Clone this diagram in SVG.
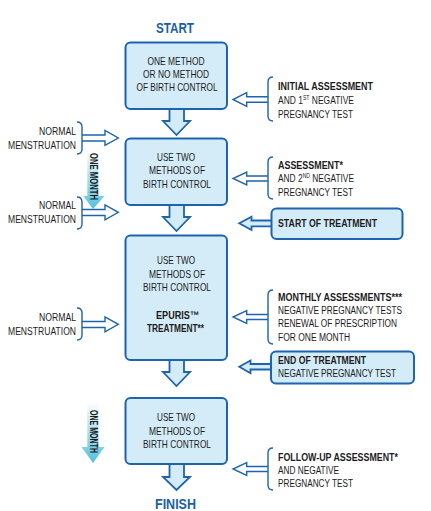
<svg xmlns="http://www.w3.org/2000/svg" width="431" height="511" viewBox="0 0 431 511">
<defs>
<style>
text{font-family:"Liberation Sans Narrow","Liberation Sans",Arial,sans-serif;fill:#1e1b1c}
.bt{font-size:11px;text-anchor:middle}
.st{font-size:11.5px}
.sup{font-size:7px}
.b{font-weight:bold}
.ttl{font-size:15px;font-weight:bold;fill:#1b5ea8;text-anchor:middle}
.lt{font-size:11.5px;text-anchor:end}
.box{fill:#d3ecf8;stroke:#1d63ad;stroke-width:2}
.dn{fill:#d3ecf8;stroke:#1d63ad;stroke-width:1.8;stroke-linejoin:miter}
.ha{fill:#ffffff;stroke:#1d63ad;stroke-width:1.4}
.fa{fill:#d3ecf8;stroke:#1d63ad;stroke-width:1.8}
.br{fill:none;stroke:#1d63ad;stroke-width:1.4}
.om{fill:url(#grad)}
.omt{font-size:10px;font-weight:bold;text-anchor:middle}
</style>
<linearGradient id="grad" x1="0" y1="0" x2="0" y2="1">
<stop offset="0" stop-color="#ffffff"/>
<stop offset="1" stop-color="#52c0df"/>
</linearGradient>
</defs>

<text class="ttl" x="175" y="33" textLength="38" lengthAdjust="spacingAndGlyphs">START</text>
<text class="ttl" x="175.5" y="509" textLength="41" lengthAdjust="spacingAndGlyphs">FINISH</text>

<g id="connectors">
<path class="dn" d="M169.5,108 V121 H163 L176.5,135 L190,121 H184 V108"/>
<path class="dn" d="M169.5,204 V217 H163 L176.5,231 L190,217 H184 V204"/>
<path class="dn" d="M169.5,359 V372 H163 L176.5,386 L190,372 H184 V359"/>
<path class="dn" d="M169.5,463 V477 H163 L176.5,490 L190,477 H184 V463"/>

<path class="ha" d="M268,96.7 H246.7 V92.7 L233,99.5 L246.7,106.3 V102.3 H268"/>
<path class="br" d="M273,77 Q268,77 268,82 V116 Q268,121 273,121"/>
<path class="ha" d="M268,176 H246.7 V172 L233,178.5 L246.7,185 V181 H268"/>
<path class="br" d="M273,157 Q268,157 268,162 V194 Q268,199 273,199"/>
<path class="ha" d="M268,314.5 H246.7 V310.5 L233,317 L246.7,323.5 V319.5 H268"/>
<path class="br" d="M273,290 Q268,290 268,295 V339 Q268,344 273,344"/>
<path class="ha" d="M268,466.5 H246.7 V462.5 L233,469 L246.7,475.5 V471.5 H268"/>
<path class="br" d="M273,448 Q268,448 268,453 V485 Q268,490 273,490"/>

<path class="fa" d="M275,220.5 H251.5 V216.7 L239.3,223.3 L251.5,230 V226.3 H275"/>
<path class="fa" d="M275,364 H250.5 V360.5 L239.3,366.8 L250.5,373.3 V369.5 H275"/>

<path class="ha" d="M82,135 H105 V130.5 L118.3,138 L105,145.3 V141 H82"/>
<path class="br" d="M77,122 Q82,122 82,127 V149 Q82,154 77,154"/>
<path class="ha" d="M82,209.5 H105 V205 L118.3,212.3 L105,219.8 V215.5 H82"/>
<path class="br" d="M77,197 Q82,197 82,202 V224 Q82,229 77,229"/>
<path class="ha" d="M82,321.5 H105 V317 L118.3,324.3 L105,331.8 V327.5 H82"/>
<path class="br" d="M77,308 Q82,308 82,313 V335 Q82,340 77,340"/>

<path class="om" d="M87.3,150 H98.5 V196 H104.5 L93,209 L83.3,196 H87.3 Z"/>
<path class="om" d="M87.3,402 H98.5 V447 H104.5 L93,463 L81.5,447 H87.3 Z"/>
<text class="omt" transform="translate(89.5,176.5) rotate(90)" textLength="47" lengthAdjust="spacingAndGlyphs">ONE MONTH</text>
<text class="omt" transform="translate(89.5,431.5) rotate(90)" textLength="43" lengthAdjust="spacingAndGlyphs">ONE MONTH</text>
</g>

<g id="box1">
<rect class="box" x="125.5" y="42.5" width="101.5" height="66.5" rx="5"/>
<g transform="translate(176,0) scale(0.8,1)">
<text class="bt" x="0" y="65" textLength="71.25" lengthAdjust="spacingAndGlyphs">ONE METHOD</text>
<text class="bt" x="0" y="78.3" textLength="82.5" lengthAdjust="spacingAndGlyphs">OR NO METHOD</text>
<text class="bt" x="1.25" y="91.5" textLength="101.25" lengthAdjust="spacingAndGlyphs">OF BIRTH CONTROL</text>
</g>
</g>

<g id="box2">
<rect class="box" x="125.5" y="138.5" width="101.5" height="66.5" rx="5"/>
<g transform="translate(176,0) scale(0.8,1)">
<text class="bt" x="0" y="161" textLength="47.5" lengthAdjust="spacingAndGlyphs">USE TWO</text>
<text class="bt" x="1.25" y="174.5" textLength="70" lengthAdjust="spacingAndGlyphs">METHODS OF</text>
<text class="bt" x="1.25" y="188" textLength="85" lengthAdjust="spacingAndGlyphs">BIRTH CONTROL</text>
</g>
</g>

<g id="box3">
<rect class="box" x="125.5" y="235.5" width="101.5" height="124.5" rx="5"/>
<g transform="translate(176,0) scale(0.8,1)">
<text class="bt" x="0" y="264.5" textLength="47.5" lengthAdjust="spacingAndGlyphs">USE TWO</text>
<text class="bt" x="1.25" y="278" textLength="70" lengthAdjust="spacingAndGlyphs">METHODS OF</text>
<text class="bt" x="1.25" y="291.5" textLength="85" lengthAdjust="spacingAndGlyphs">BIRTH CONTROL</text>
<text class="bt b" x="1.9" y="319" textLength="53.75" lengthAdjust="spacingAndGlyphs">EPURIS™</text>
<text class="bt b" x="-0.6" y="332.5" textLength="71.25" lengthAdjust="spacingAndGlyphs">TREATMENT**</text>
</g>
</g>

<g id="box4">
<rect class="box" x="125.5" y="398" width="101.5" height="66" rx="5"/>
<g transform="translate(176,0) scale(0.8,1)">
<text class="bt" x="0" y="421.5" textLength="47.5" lengthAdjust="spacingAndGlyphs">USE TWO</text>
<text class="bt" x="1.25" y="435" textLength="70" lengthAdjust="spacingAndGlyphs">METHODS OF</text>
<text class="bt" x="1.25" y="448" textLength="85" lengthAdjust="spacingAndGlyphs">BIRTH CONTROL</text>
</g>
</g>

<g id="note-initial" transform="translate(278,0) scale(0.8,1)">
<text class="st b" x="0" y="90.5" textLength="118.75" lengthAdjust="spacingAndGlyphs">INITIAL ASSESSMENT</text>
<text class="st" x="0" y="104" textLength="95" lengthAdjust="spacingAndGlyphs">AND 1<tspan class="sup" dy="-4">ST</tspan><tspan dy="4"> NEGATIVE</tspan></text>
<text class="st" x="0" y="118" textLength="93.75" lengthAdjust="spacingAndGlyphs">PREGNANCY TEST</text>
</g>

<g id="note-assessment" transform="translate(278,0) scale(0.8,1)">
<text class="st b" x="0" y="169" textLength="81.25" lengthAdjust="spacingAndGlyphs">ASSESSMENT*</text>
<text class="st" x="0" y="182.5" textLength="95" lengthAdjust="spacingAndGlyphs">AND 2<tspan class="sup" dy="-4">ND</tspan><tspan dy="4"> NEGATIVE</tspan></text>
<text class="st" x="0" y="196.5" textLength="93.75" lengthAdjust="spacingAndGlyphs">PREGNANCY TEST</text>
</g>

<g id="start-treatment">
<rect class="box" x="271.5" y="208.5" width="131" height="30.5" rx="5"/>
<g transform="translate(278,0) scale(0.8,1)">
<text class="st b" x="0" y="227.3" textLength="123.75" lengthAdjust="spacingAndGlyphs">START OF TREATMENT</text>
</g>
</g>

<g id="note-monthly" transform="translate(278,0) scale(0.8,1)">
<text class="st b" x="0" y="301" textLength="155" lengthAdjust="spacingAndGlyphs">MONTHLY ASSESSMENTS***</text>
<text class="st" x="0" y="314.5" textLength="155" lengthAdjust="spacingAndGlyphs">NEGATIVE PREGNANCY TESTS</text>
<text class="st" x="0" y="327.5" textLength="148.75" lengthAdjust="spacingAndGlyphs">RENEWAL OF PRESCRIPTION</text>
<text class="st" x="0" y="341.5" textLength="90" lengthAdjust="spacingAndGlyphs">FOR ONE MONTH</text>
</g>

<g id="end-treatment">
<rect class="box" x="271" y="351.5" width="143" height="32" rx="5"/>
<g transform="translate(278,0) scale(0.8,1)">
<text class="st b" x="0" y="364" textLength="110" lengthAdjust="spacingAndGlyphs">END OF TREATMENT</text>
<text class="st" x="0" y="377" textLength="147.5" lengthAdjust="spacingAndGlyphs">NEGATIVE PREGNANCY TEST</text>
</g>
</g>

<g id="note-followup" transform="translate(278,0) scale(0.8,1)">
<text class="st b" x="0" y="461" textLength="150" lengthAdjust="spacingAndGlyphs">FOLLOW-UP ASSESSMENT*</text>
<text class="st" x="0" y="474.5" textLength="76.25" lengthAdjust="spacingAndGlyphs">AND NEGATIVE</text>
<text class="st" x="0" y="487.5" textLength="93.75" lengthAdjust="spacingAndGlyphs">PREGNANCY TEST</text>
</g>

<g id="menstruation-1" transform="translate(76,0) scale(0.8,1)">
<text class="lt" x="0" y="135.5" textLength="46.25" lengthAdjust="spacingAndGlyphs">NORMAL</text>
<text class="lt" x="0" y="149" textLength="85" lengthAdjust="spacingAndGlyphs">MENSTRUATION</text>
</g>
<g id="menstruation-2" transform="translate(76,0) scale(0.8,1)">
<text class="lt" x="0" y="209" textLength="46.25" lengthAdjust="spacingAndGlyphs">NORMAL</text>
<text class="lt" x="0" y="223" textLength="85" lengthAdjust="spacingAndGlyphs">MENSTRUATION</text>
</g>
<g id="menstruation-3" transform="translate(76,0) scale(0.8,1)">
<text class="lt" x="0" y="321.5" textLength="46.25" lengthAdjust="spacingAndGlyphs">NORMAL</text>
<text class="lt" x="0" y="335" textLength="85" lengthAdjust="spacingAndGlyphs">MENSTRUATION</text>
</g>
</svg>
